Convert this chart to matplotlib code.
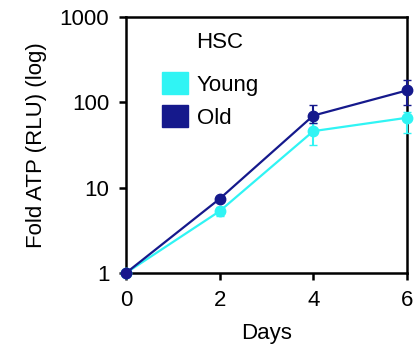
import matplotlib
matplotlib.use('Agg')
from matplotlib import pyplot as plt
from matplotlib.patches import Patch

plt.rcParams['font.family'] = ['Liberation Sans', 'DejaVu Sans']

days = [0, 2, 4, 6]
young = [1.0, 5.3, 46, 66]
young_lo = [0, 0.6, 14, 22]
young_hi = [0, 0.7, 12, 12]
old = [1.0, 7.4, 70, 138]
old_lo = [0, 0.5, 12, 45]
old_hi = [0, 0.6, 22, 45]

c_young = '#30F4F4'
c_old = '#15198C'

fig = plt.figure(figsize=(4.17, 3.55), dpi=100)
ax = fig.add_axes([0.302, 0.231, 0.674, 0.721])

ax.errorbar(days, young, yerr=[young_lo, young_hi], color=c_young, lw=1.6,
            marker='o', ms=7.5, capsize=3, elinewidth=1.5, clip_on=False, zorder=3)
ax.errorbar(days, old, yerr=[old_lo, old_hi], color=c_old, lw=1.6,
            marker='o', ms=7.5, capsize=3, elinewidth=1.5, clip_on=False, zorder=4)

ax.set_yscale('log')
ax.set_ylim(1, 1000)
ax.set_xlim(0, 6)
ax.set_xticks([0, 2, 4, 6])
ax.set_yticks([1, 10, 100, 1000])
ax.set_yticklabels(['1', '10', '100', '1000'])
ax.minorticks_off()
ax.tick_params(direction='out', length=5, width=1.8, labelsize=16, pad=7)
for s in ax.spines.values():
    s.set_linewidth(1.8)

ax.set_xlabel('Days', fontsize=16, labelpad=9)
ax.set_ylabel('Fold ATP (RLU) (log)', fontsize=16, labelpad=9)

ax.text(0.25, 0.9, 'HSC', transform=ax.transAxes, fontsize=16, va='center')
handles = [Patch(color=c_young, label='Young'), Patch(color=c_old, label='Old')]
ax.legend(handles=handles, loc='upper left', bbox_to_anchor=(0.096, 0.82),
          frameon=False, fontsize=16, handlelength=1.17, handleheight=1.17,
          handletextpad=0.4, labelspacing=0.42, borderaxespad=0)

fig.savefig('out.png', dpi=100)
